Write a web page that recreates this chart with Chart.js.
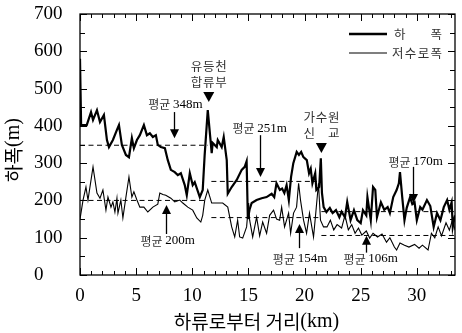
<!DOCTYPE html>
<html>
<head>
<meta charset="utf-8">
<script src="https://cdn.jsdelivr.net/npm/chart.js@4.4.0/dist/chart.umd.min.js"></script>
<style>
  html, body { margin: 0; padding: 0; background: #fff; }
</style>
</head>
<body>
<canvas id="chart" width="462" height="333"></canvas>
<script>
// 하폭 (굵은 선)
const widthKm = [0, 0.1, 0.6, 0.98, 1.16, 1.51, 1.78, 2.13, 2.4, 2.58, 2.93, 3.29, 3.47, 3.73, 4.09, 4.36, 4.62, 4.8, 5.07, 5.33,
  5.69, 5.96, 6.22, 6.49, 6.76, 6.93, 7.2, 7.56, 7.82, 8.09, 8.44, 8.71, 8.98, 9.33, 9.51, 9.78, 10.04, 10.22, 10.67, 10.93,
  11.1, 11.38, 11.73, 11.82, 12.18, 12.27, 12.62, 12.8, 13.07, 13.16, 13.51, 13.96, 14.4, 14.67, 14.84, 14.95, 15.1, 15.29, 15.73, 16.18,
  16.62, 17.07, 17.3, 17.5, 17.8, 18.0, 18.2, 18.4, 18.6, 18.8, 19.0, 19.3, 19.5, 19.7, 19.9, 20.2, 20.4, 20.55, 20.7, 20.95,
  21.05, 21.3, 21.45, 21.55, 21.7, 21.95, 22.25, 22.5, 22.8, 23.1, 23.3, 23.6, 23.8, 24.1, 24.4, 24.7, 25.0, 25.2, 25.5, 25.6,
  25.9, 26.1, 26.3, 26.45, 26.8, 27.1, 27.4, 27.6, 27.9, 28.2, 28.4, 28.5, 28.7, 28.9, 29.1, 29.4, 29.6, 29.8, 30.0, 30.3,
  30.5, 30.9, 31.2, 31.5, 31.8, 32.1, 32.4, 32.7, 32.9, 33.1, 33.2, 33.4];
const widthM = [580, 402, 402, 437, 416, 442, 410, 429, 362, 343, 362, 389, 402, 349, 322, 316, 367, 340, 362, 375,
  402, 375, 380, 370, 375, 349, 343, 340, 308, 282, 276, 268, 273, 241, 214, 273, 241, 249, 209, 228,
  320, 442, 327, 354, 343, 362, 343, 370, 308, 218, 236, 255, 282, 290, 305, 150, 175, 193, 201, 206,
  209, 218, 209, 246, 228, 232, 220, 241, 201, 263, 300, 330, 322, 330, 316, 308, 273, 285, 246, 273,
  228, 236, 313, 220, 182, 169, 180, 166, 174, 155, 170, 155, 196, 147, 174, 147, 139, 174, 160, 209,
  147, 236, 228, 155, 195, 175, 182, 166, 209, 228, 246, 276, 209, 147, 180, 209, 190, 195, 147, 182,
  175, 201, 185, 129, 166, 147, 182, 201, 175, 195, 129, 160];

// 저수로폭 (가는 선)
const lowKm = [0, 0.27, 0.53, 0.71, 1.16, 1.51, 1.78, 2.04, 2.31, 2.49, 2.76, 2.93, 3.11, 3.29, 3.38, 3.64, 3.82, 4.09, 4.36, 4.62,
  4.8, 5.07, 5.33, 5.69, 6.04, 6.49, 6.93, 7.11, 7.38, 7.64, 8.09, 8.44, 8.89, 9.16, 9.6, 10.04, 10.4, 10.76, 10.93, 11.11,
  11.38, 11.73, 12.71, 13.16, 13.51, 13.78, 14.04, 14.22, 14.49, 14.84, 15.02, 15.11, 15.38, 15.73, 16.0, 16.27, 16.62, 16.89, 17.24, 17.51,
  17.78, 17.96, 18.22, 18.58, 18.76, 19.02, 19.29, 19.47, 19.64, 19.91, 20.18, 20.44, 20.8, 20.98, 21.24, 21.42, 21.69, 22.0, 22.3, 22.6,
  22.9, 23.3, 23.6, 23.9, 24.2, 24.5, 24.8, 25.1, 25.5, 25.8, 26.1, 26.5, 26.9, 27.3, 27.6, 28.0, 28.2, 28.5, 28.9, 29.3,
  29.8, 30.2, 30.5, 31.0, 31.3, 31.6, 31.9, 32.2, 32.6, 32.9, 33.2, 33.4];
const lowM = [150, 201, 236, 201, 290, 220, 206, 228, 174, 209, 182, 196, 169, 206, 166, 201, 153, 209, 263, 209,
  223, 201, 182, 182, 169, 182, 190, 220, 216, 214, 206, 196, 201, 193, 182, 174, 153, 142, 160, 201,
  228, 193, 193, 182, 129, 102, 147, 102, 99, 129, 193, 147, 102, 155, 105, 142, 112, 160, 174, 150,
  147, 182, 129, 166, 112, 166, 182, 246, 201, 147, 112, 166, 102, 160, 246, 147, 129, 129, 147, 121,
  135, 126, 160, 121, 135, 112, 126, 107, 118, 99, 112, 102, 110, 88, 100, 75, 67, 86, 80, 75,
  82, 72, 80, 67, 112, 100, 129, 105, 140, 120, 150, 120];

const seriesLabels = ['하폭', '저수로폭'];

// 구간 평균 (점선)
const avgM = [348, 200, 251, 154, 170, 106];
const avgStartKm = [0, 0, 11.7, 11.7, 21.5, 21.5];
const avgEndKm = [11.4, 11.2, 21.1, 21.5, 33.4, 33.4];

// 축
const xTickKm = [0, 5, 10, 15, 20, 25, 30];
const yTickM = [0, 100, 200, 300, 400, 500, 600, 700];
const xMaxKm = 33.4;
const yMaxM = 700;

// 주석 위치 (데이터 좌표)
const avgLabelKm = [8.5, 7.8, 16.0, 19.6, 29.9, 25.9];
const avgLabelM = [458, 91, 394, 43, 303, 43];
const avgArrowKm = [8.4, 7.7, 16.0, 19.5, 29.7, 25.5];
const avgArrowTailM = [437, 110, 375, 72, 290, 60];
const avgArrowTipM = [367, 188, 263, 137, 193, 105];

const landmarkNames = [['유등천', '합류부'], ['가수원', '신 교']];
const landmarkKm = [11.47, 21.5];
const landmarkTipM = [464, 327];

const SERIF = '"Liberation Serif", "Times New Roman", serif';
const KR = '"Noto Sans CJK KR", sans-serif';

function drawRuns(ctx, runs, x, y) {
  let total = 0;
  runs.forEach(r => { ctx.font = r.f; r.w = ctx.measureText(r.t).width; total += r.w; });
  let cx = x - total / 2;
  ctx.textAlign = 'left';
  ctx.textBaseline = 'middle';
  runs.forEach(r => { ctx.font = r.f; ctx.fillStyle = r.c || '#000'; ctx.fillText(r.t, cx, y); cx += r.w; });
}

function spreadText(ctx, text, left, right, y) {
  const chars = [...text];
  ctx.textAlign = 'center';
  ctx.textBaseline = 'middle';
  if (chars.length === 1) { ctx.fillText(text, (left + right) / 2, y); return; }
  const w = ctx.measureText(chars[0]).width;
  const step = (right - left - w) / (chars.length - 1);
  chars.forEach((ch, i) => ctx.fillText(ch, left + w / 2 + i * step, y));
}

const decor = {
  id: 'decor',
  afterDraw(chart) {
    const { ctx, chartArea: a } = chart;
    const x = chart.scales.x, y = chart.scales.y;
    ctx.save();

    // 테두리와 안쪽 눈금
    ctx.strokeStyle = '#000';
    ctx.lineWidth = 1.3;
    ctx.strokeRect(a.left, a.top, a.right - a.left, a.bottom - a.top);
    ctx.lineWidth = 1;
    ctx.beginPath();
    for (let k = 0; k <= Math.floor(xMaxKm); k++) {
      const px = Math.round(x.getPixelForValue(k)) + 0.5;
      const len = k % 5 === 0 ? 7 : 4;
      ctx.moveTo(px, a.bottom); ctx.lineTo(px, a.bottom - len);
      ctx.moveTo(px, a.top); ctx.lineTo(px, a.top + len);
    }
    for (let v = 0; v <= yMaxM; v += 50) {
      const py = Math.round(y.getPixelForValue(v)) + 0.5;
      const len = v % 100 === 0 ? 7 : 5;
      ctx.moveTo(a.left, py); ctx.lineTo(a.left + len, py);
      ctx.moveTo(a.right, py); ctx.lineTo(a.right - len, py);
    }
    ctx.stroke();

    // 평균 주석
    avgM.forEach((v, i) => {
      drawRuns(ctx, [
        { t: '평균 ', f: '12px ' + KR, c: '#333' },
        { t: v + 'm', f: '13px ' + SERIF }
      ], x.getPixelForValue(avgLabelKm[i]), y.getPixelForValue(avgLabelM[i]));
      const ax = Math.round(x.getPixelForValue(avgArrowKm[i])) + 0.5;
      const tail = y.getPixelForValue(avgArrowTailM[i]);
      const tip = y.getPixelForValue(avgArrowTipM[i]);
      const dir = tip > tail ? 1 : -1;
      ctx.strokeStyle = '#000';
      ctx.lineWidth = 1.3;
      ctx.beginPath();
      ctx.moveTo(ax, tail);
      ctx.lineTo(ax, tip - dir * 6);
      ctx.stroke();
      ctx.fillStyle = '#000';
      ctx.beginPath();
      ctx.moveTo(ax, tip);
      ctx.lineTo(ax - 4.5, tip - dir * 9);
      ctx.lineTo(ax + 4.5, tip - dir * 9);
      ctx.closePath();
      ctx.fill();
    });

    // 지점 표시
    landmarkNames.forEach((lines, i) => {
      const cx = x.getPixelForValue(landmarkKm[i]);
      const tip = y.getPixelForValue(landmarkTipM[i]);
      ctx.fillStyle = '#000';
      ctx.beginPath();
      ctx.moveTo(cx, tip);
      ctx.lineTo(cx - 5.5, tip - 10);
      ctx.lineTo(cx + 5.5, tip - 10);
      ctx.closePath();
      ctx.fill();
      ctx.font = '12.5px ' + KR;
      ctx.fillStyle = '#333';
      lines.forEach((ln, j) => {
        const ly = tip - 20 - (lines.length - 1 - j) * 16;
        const cleaned = ln.replace(/ /g, '');
        spreadText(ctx, cleaned, cx - 18, cx + 18, ly);
      });
    });

    // 범례
    const lx0 = a.right - 106, lx1 = a.right - 68;
    const ly = [a.top + 20, a.top + 39];
    const lw = [2.5, 1.2];
    seriesLabels.forEach((lab, i) => {
      ctx.strokeStyle = '#000';
      ctx.lineWidth = lw[i];
      ctx.beginPath();
      ctx.moveTo(lx0, ly[i]); ctx.lineTo(lx1, ly[i]);
      ctx.stroke();
      ctx.font = '12.5px ' + KR;
      ctx.fillStyle = '#333';
      spreadText(ctx, lab, a.right - 62 + (i === 0 ? 1 : -1), a.right - 13, ly[i]);
    });

    // 축 제목
    drawRuns(ctx, [
      { t: '하류로부터 거리', f: '19px ' + KR },
      { t: '(km)', f: '20px ' + SERIF }
    ], (a.left + a.right) / 2 - 11, 322);

    ctx.save();
    ctx.translate(14, 150);
    ctx.rotate(-Math.PI / 2);
    drawRuns(ctx, [
      { t: '하폭', f: '19px ' + KR },
      { t: '(m)', f: '20px ' + SERIF }
    ], 0, 0);
    ctx.restore();

    ctx.restore();
  }
};

const datasets = [
  {
    label: seriesLabels[0],
    data: widthKm.map((k, i) => ({ x: k, y: widthM[i] })),
    borderColor: '#000', borderWidth: 2.2, pointRadius: 0, tension: 0
  },
  {
    label: seriesLabels[1],
    data: lowKm.map((k, i) => ({ x: k, y: lowM[i] })),
    borderColor: '#000', borderWidth: 1.1, pointRadius: 0, tension: 0
  }
];
avgM.forEach((v, i) => {
  datasets.push({
    label: '평균 ' + v + 'm',
    data: [{ x: avgStartKm[i], y: v }, { x: avgEndKm[i], y: v }],
    borderColor: '#000', borderWidth: 1, borderDash: [5, 3.5], pointRadius: 0
  });
});

new Chart(document.getElementById('chart'), {
  type: 'line',
  data: { datasets },
  options: {
    responsive: false,
    animation: false,
    events: [],
    layout: { padding: { left: 34, right: 7, top: 14, bottom: 0 } },
    plugins: { legend: { display: false }, tooltip: { enabled: false } },
    scales: {
      x: {
        type: 'linear', min: 0, max: xMaxKm,
        afterBuildTicks: s => { s.ticks = xTickKm.map(v => ({ value: v })); },
        afterFit: s => { s.height = 58; },
        grid: { display: false, drawTicks: false },
        border: { display: false },
        ticks: { padding: 10, maxRotation: 0, autoSkip: false, color: '#000', font: { family: SERIF, size: 19 } }
      },
      y: {
        min: 0, max: yMaxM,
        afterBuildTicks: s => { s.ticks = yTickM.map(v => ({ value: v })); },
        afterFit: s => { s.width = 46; },
        grid: { display: false, drawTicks: false },
        border: { display: false },
        ticks: { padding: 0, crossAlign: 'far', color: '#000', font: { family: SERIF, size: 19 } }
      }
    }
  },
  plugins: [decor]
});
</script>
</body>
</html>
